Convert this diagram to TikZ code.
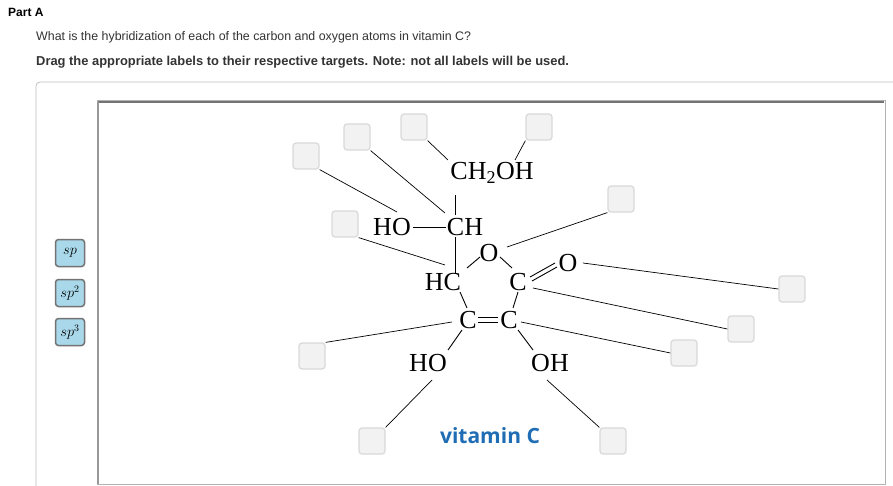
\documentclass[tikz,border=0pt]{standalone}
\usepackage{fontspec}
\setmainfont{Liberation Serif}
\newfontfamily\uisans{Liberation Sans}
\newfontfamily\vitfont{Open Sans}
\definecolor{labfill}{HTML}{A8D8EA}
\definecolor{vitblue}{HTML}{1F6DB5}
\begin{document}
\begin{tikzpicture}[x=1pt,y=-1pt,
  tgt/.style={draw=black!15,line width=1.2pt,fill=black!5,rounded corners=3pt,minimum width=26pt,minimum height=26pt,inner sep=0pt},
  lab/.style={draw=black!55,line width=1.5pt,fill=labfill,rounded corners=3pt,minimum width=29pt,minimum height=27pt,inner sep=0pt,font=\fontsize{14}{14}\selectfont},
  atm/.style={inner sep=0pt,font=\fontsize{26}{26}\selectfont},
  ln/.style={line width=0.7pt},
  bd/.style={line width=0.9pt}]
\useasboundingbox (0,0) rectangle (893,486);
\fill[white] (0,0) rectangle (893,486);
\node[anchor=west,inner sep=0pt,font=\uisans\bfseries\fontsize{12}{12}\selectfont] (pa) at (8,12) {Part A};
\node[anchor=west,inner sep=0pt,font=\uisans\fontsize{12.4}{12}\selectfont,text=black!80] (q) at (36,37) {What is the hybridization of each of the carbon and oxygen atoms in vitamin C?};
\node[anchor=west,inner sep=0pt,font=\uisans\bfseries\fontsize{12.9}{12}\selectfont,text=black!80] (dr) at (36,62) {Drag the appropriate labels to their respective targets. Note: not all labels will be used.};
\draw[black!25,line width=0.8pt,rounded corners=4pt] (36,486) -- (36,82) -- (893,82);
\draw[black!30,line width=1pt] (97,484) -- (97,101) -- (885,101) -- (885,484) -- cycle;
\draw[black!55,line width=2pt] (98,102) -- (884,102);
\draw[black!40,line width=1.2pt] (98,102) -- (98,484);
% labels
\node[lab] (l1) at (70,253) {$sp$};
\node[lab] (l2) at (70,293) {$sp^2$};
\node[lab] (l3) at (70,332) {$sp^3$};
% targets
\node[tgt] (b1) at (306,156) {};
\node[tgt] (b2) at (357,137) {};
\node[tgt] (b3) at (414,127) {};
\node[tgt] (b4) at (539,127) {};
\node[tgt] (b5) at (621,199) {};
\node[tgt] (b6) at (345,224) {};
\node[tgt] (b7) at (792,289) {};
\node[tgt] (b8) at (741,329) {};
\node[tgt] (b9) at (684,353) {};
\node[tgt] (b10) at (312,356) {};
\node[tgt] (b11) at (372,441) {};
\node[tgt] (b12) at (613,441) {};
% atoms
\node[atm] (ch2oh) at (492,173) {CH\textsubscript{\fontsize{18}{18}\selectfont 2}OH};
\node[atm] (ho1) at (392,227) {HO};
\node[atm] (ch) at (465,227) {CH};
\node[atm] (or) at (489,253) {O};
\node[atm] (hc) at (443,282) {HC};
\node[atm] (cr) at (518,282) {C};
\node[atm] (oc) at (568,263) {O};
\node[atm] (cl2) at (468,320) {C};
\node[atm] (cr2) at (509,320) {C};
\node[atm] (ho2) at (428,363) {HO};
\node[atm] (oh2) at (550,363) {OH};
\node[inner sep=0pt,text=vitblue,font=\vitfont\bfseries\fontsize{21}{21}\selectfont] (vit) at (490,436) {vitamin C};
% bonds
\draw[bd] (455,195) -- (455,215);
\draw[bd] (413,227) -- (446,227);
\draw[bd] (455,237) -- (455,273);
\draw[bd] (467,268) -- (480,257);
\draw[bd] (500,257) -- (512,268);
\draw[bd] (532,281) -- (557,267);
\draw[bd] (530,277) -- (555,263);
\draw[bd] (460,292) -- (467,308);
\draw[bd] (518,292) -- (513,308);
\draw[bd] (478,317.5) -- (498,317.5);
\draw[bd] (478,322.5) -- (498,322.5);
\draw[bd] (462,330) -- (448,350);
\draw[bd] (518,330) -- (533,350);
% connectors
\draw[ln] (b1.south east) -- (397,212);
\draw[ln] (b2.south east) -- (445,213);
\draw[ln] (b3.south east) -- (448,160);
\draw[ln] (b4.south west) -- (515,160);
\draw[ln] (b5.south west) -- (507,247);
\draw[ln] (583,263) -- (b7.west);
\draw[ln] (533,288) -- (b8.west);
\draw[ln] (521,322) -- (b9.west);
\draw[ln] (b6.south east) -- (445,265);
\draw[ln] (b10.north east) -- (452,322);
\draw[ln] (432,380) -- (b11.north east);
\draw[ln] (547,380) -- (b12.north west);
\end{tikzpicture}
\end{document}
